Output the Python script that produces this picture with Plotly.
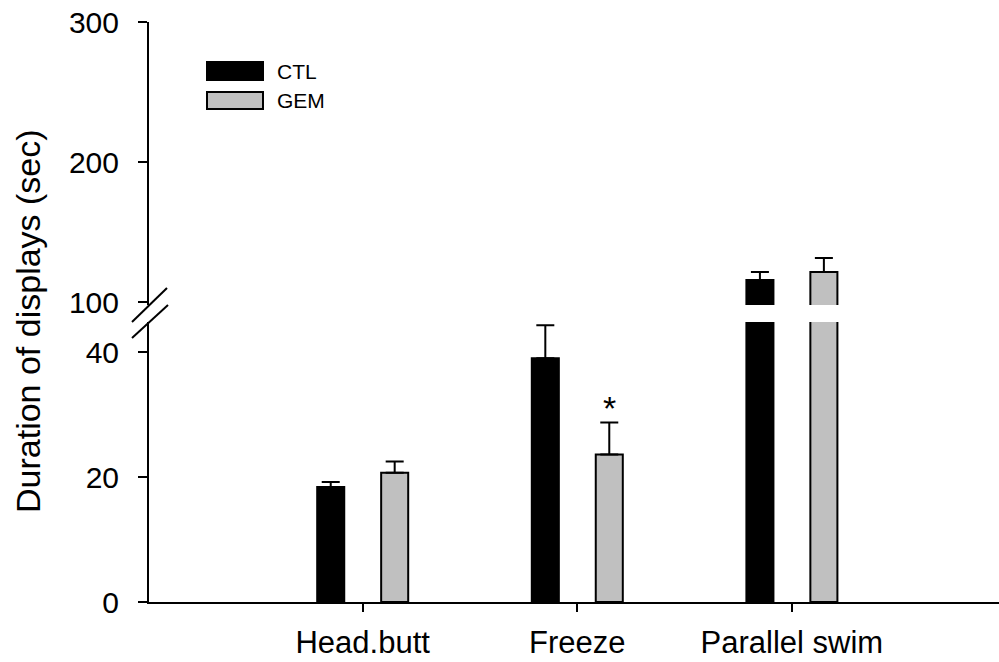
import plotly.graph_objects as go

categories = ["Head.butt", "Freeze", "Parallel swim"]
ctl_values = [18.4, 39.0, 115.7]
ctl_err = [0.8, 5.3, 5.7]
gem_values = [20.7, 23.6, 121.4]
gem_err = [1.8, 5.1, 10.0]
lower_ticks = [0, 20, 40]
upper_ticks = [100, 200, 300]
star_category = "Freeze"
star_y = 31.0

W, H = 999, 662
ML, MR, MT, MB = 149, 0, 22, 60
PW, PH = W - ML - MR, H - MT - MB


def px(x):
    return (x - ML) / PW


def py(y):
    return (H - MB - y) / PH


xpos = [i + 1 for i in range(len(categories))]
bar_w = 0.126
off = 0.149
FONT = "Liberation Sans, Arial, sans-serif"

fig = go.Figure()
for yax in ["y", "y2"]:
    fig.add_trace(go.Bar(
        x=xpos, y=ctl_values, yaxis=yax, name="CTL",
        width=bar_w, offset=-off - bar_w / 2,
        marker=dict(color="black", line=dict(color="black", width=2)),
        error_y=dict(type="data", array=ctl_err, arrayminus=[0] * 3, symmetric=False,
                     color="black", thickness=2, width=9),
        showlegend=False,
    ))
    fig.add_trace(go.Bar(
        x=xpos, y=gem_values, yaxis=yax, name="GEM",
        width=bar_w, offset=off - bar_w / 2,
        marker=dict(color="#c0c0c0", line=dict(color="black", width=2)),
        error_y=dict(type="data", array=gem_err, arrayminus=[0] * 3, symmetric=False,
                     color="black", thickness=2, width=9),
        showlegend=False,
    ))

lower_top = 322
upper_bot = 305
lower_max = (H - MB - lower_top) / 6.25
upper_min = 100 - (upper_bot - 302) / 1.4

axis_common = dict(showline=True, linecolor="black", linewidth=2, ticks="outside",
                   ticklen=9, tickwidth=2, tickcolor="black", showgrid=False,
                   zeroline=False, tickfont=dict(family=FONT, size=30, color="black"),
                   ticklabelstandoff=13, automargin=False)

fig.update_layout(
    width=W, height=H, margin=dict(l=ML, r=MR, t=MT, b=MB, autoexpand=False),
    paper_bgcolor="white", plot_bgcolor="white",
    barmode="overlay", showlegend=False,
    xaxis=dict(range=[1 - (362.7 - ML) / 214.6, 1 + (W - 362.7) / 214.6],
               tickvals=xpos, ticktext=categories, showline=True, linecolor="black",
               linewidth=2, ticks="outside", ticklen=8, tickwidth=2, tickcolor="black",
               showgrid=False, zeroline=False, ticklabelstandoff=4, automargin=False,
               tickfont=dict(family=FONT, size=31, color="black"), anchor="y"),
    yaxis=dict(domain=[0, py(lower_top)], range=[0, lower_max], tickvals=lower_ticks,
               anchor="x", **axis_common),
    yaxis2=dict(domain=[py(upper_bot), 1], range=[upper_min, 300], tickvals=upper_ticks,
                anchor="x", **axis_common),
)

# axis break marks
for (x0, y0, x1, y1) in [(132, 322, 167, 288), (132, 338, 168, 305)]:
    fig.add_shape(type="line", xref="paper", yref="paper",
                  x0=px(x0), y0=py(y0), x1=px(x1), y1=py(y1),
                  line=dict(color="black", width=2))

# legend
fig.add_shape(type="rect", xref="paper", yref="paper", x0=px(207), x1=px(263),
              y0=py(80), y1=py(62), fillcolor="black", line=dict(color="black", width=2))
fig.add_shape(type="rect", xref="paper", yref="paper", x0=px(207), x1=px(263),
              y0=py(109), y1=py(92), fillcolor="#c0c0c0", line=dict(color="black", width=2))
for label, yc in [("CTL", 71), ("GEM", 100)]:
    fig.add_annotation(text=label, xref="paper", yref="paper", x=px(275), y=py(yc),
                       xanchor="left", yanchor="middle", showarrow=False,
                       font=dict(family=FONT, size=21, color="black"))

# significance star
fig.add_annotation(text="*", x=xpos[categories.index(star_category)] + off, y=star_y,
                   xref="x", yref="y", showarrow=False, yanchor="middle",
                   font=dict(family=FONT, size=34, color="black"))

# y axis title
fig.add_annotation(text="Duration of displays (sec)", xref="paper", yref="paper",
                   x=px(28), y=py(321), textangle=-90, showarrow=False,
                   xanchor="center", yanchor="middle",
                   font=dict(family=FONT, size=34, color="black"))

fig.write_html("out.html")
